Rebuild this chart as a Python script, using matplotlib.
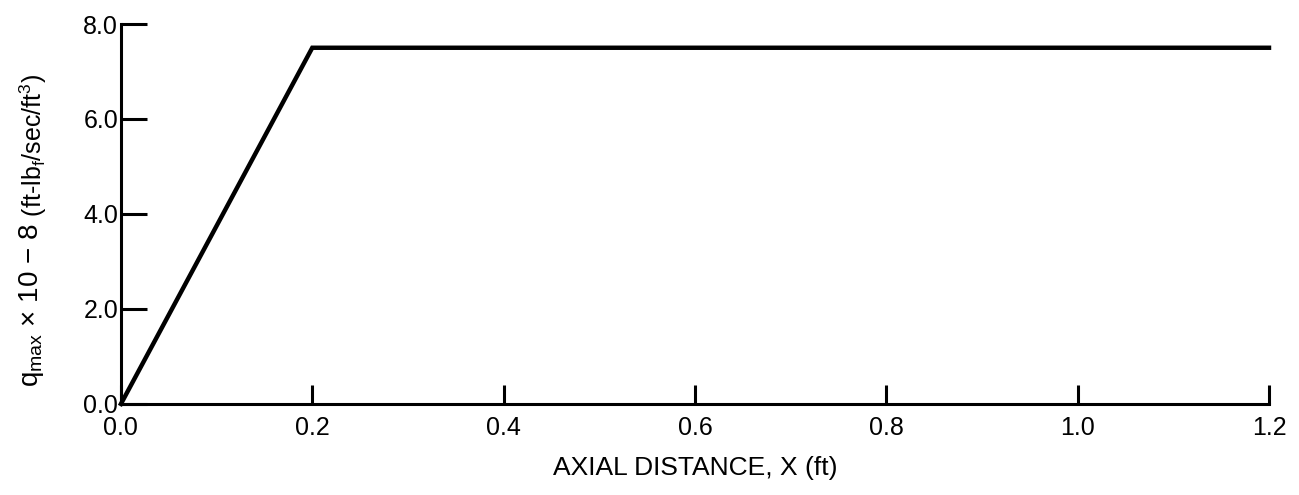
import numpy as np
import matplotlib
matplotlib.use("Agg")
import matplotlib.pyplot as plt

# axial distance (ft) and q_max (x 1e-8)
x = [0.0, 0.2, 1.2]
q = [0.0, 7.5, 7.5]
xticks = [0.0, 0.2, 0.4, 0.6, 0.8, 1.0, 1.2]
yticks = [0.0, 2.0, 4.0, 6.0, 8.0]

plt.rcParams['font.family'] = ['Liberation Sans', 'DejaVu Sans']
plt.rcParams['mathtext.fontset'] = 'custom'
plt.rcParams['mathtext.rm'] = 'Liberation Sans'
plt.rcParams['mathtext.it'] = 'Liberation Sans'
plt.rcParams['mathtext.bf'] = 'Liberation Sans'
plt.rcParams['font.size'] = 18

fig = plt.figure(figsize=(12.99, 4.95), dpi=100)
ax = fig.add_axes([0.0931, 0.184, 0.8838, 0.7675])

ax.plot(x, q, '-', color='black', linewidth=3.2, solid_joinstyle='miter', clip_on=False)

ax.set_xlim(0, 1.2)
ax.set_ylim(0, 8)
ax.set_xticks(xticks)
ax.set_yticks(yticks)
ax.set_xticklabels(["%.1f" % v for v in xticks])
ax.set_yticklabels(["%.1f" % v for v in yticks])

for s in ['top', 'right']:
    ax.spines[s].set_visible(False)
for s in ['left', 'bottom']:
    ax.spines[s].set_linewidth(2.2)

ax.tick_params(axis='y', direction='in', length=19, width=2.2, pad=2)
ax.tick_params(axis='x', direction='in', length=14, width=2.2, pad=9)

ax.set_xlabel("AXIAL DISTANCE, X (ft)", fontsize=19, labelpad=11)

# y label in two parts: main text and smaller units
main = fig.text(38 / 1299, 108 / 495, r'q$_{\mathregular{max}}$ $\times$ 10 $-$ 8',
                rotation=90, rotation_mode='anchor', ha='left', va='baseline', fontsize=20)
ax.annotate(r' (ft-lb$_{\mathregular{f}}$/sec/ft$^{\mathregular{3}}$)',
            xy=(42, 1.0), xycoords=('figure pixels', main),
            rotation=90, rotation_mode='anchor', ha='left', va='baseline', fontsize=18,
            annotation_clip=False)

plt.savefig("out.png", dpi=100)
